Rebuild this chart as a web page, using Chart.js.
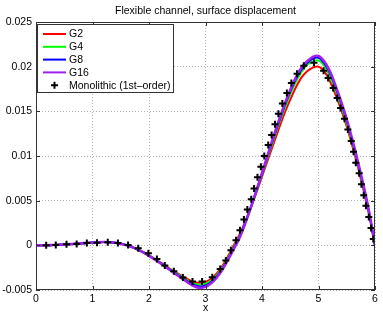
<!DOCTYPE html>
<html lang="en">
<head>
  <meta charset="UTF-8">
  <title>Flexible channel, surface displacement</title>
  <script src="https://cdn.jsdelivr.net/npm/chart.js"></script>
  <style>
    * { margin: 0; padding: 0; box-sizing: border-box; }
    body { background: #fff; width: 383px; height: 318px; overflow: hidden; }
    canvas { display: block; }
  </style>
</head>
<body>
  <canvas id="chart" width="383" height="318"></canvas>

  <script>
    // x grid shared by the four coupled curves
    const xs = [0, 0.1, 0.2, 0.3, 0.4, 0.5, 0.6, 0.7, 0.8, 0.9,
      1.0, 1.1, 1.2, 1.3, 1.4, 1.5, 1.6, 1.7, 1.8, 1.9,
      2.0, 2.1, 2.2, 2.3, 2.4, 2.5, 2.6, 2.7, 2.8, 2.9,
      3.0, 3.1, 3.2, 3.3, 3.4, 3.5, 3.6, 3.7, 3.8, 3.9,
      4.0, 4.1, 4.2, 4.3, 4.4, 4.5, 4.6, 4.7, 4.8, 4.9,
      5.0, 5.1, 5.2, 5.3, 5.4, 5.5, 5.6, 5.7, 5.8, 5.9, 6.0];

    const g2 = [0, 0, 0.00001, 0.00003, 0.00006, 0.00009, 0.00013, 0.00017, 0.00022, 0.00027,
      0.00031, 0.00035, 0.00037, 0.00035, 0.00029, 0.00018, 0.00002, -0.0002, -0.00046, -0.00077,
      -0.00112, -0.0015, -0.0019, -0.00232, -0.00273, -0.00312, -0.00349, -0.00384, -0.0041, -0.0042,
      -0.0041, -0.00375, -0.00315, -0.0023, -0.0012, 0.0, 0.0012, 0.0026, 0.0042, 0.0059,
      0.0077, 0.0095, 0.0113, 0.0131, 0.0148, 0.0163, 0.0177, 0.0188, 0.0195, 0.0199,
      0.0200, 0.0195, 0.0184, 0.0169, 0.0152, 0.0133, 0.0111, 0.0087, 0.0061, 0.0033, 0];

    const g4 = [0, 0, 0.00001, 0.00003, 0.00006, 0.00009, 0.00013, 0.00017, 0.00022, 0.00027,
      0.00031, 0.00035, 0.00037, 0.00035, 0.00029, 0.00018, 0.00002, -0.0002, -0.00047, -0.00079,
      -0.00115, -0.00153, -0.00194, -0.00236, -0.00279, -0.0032, -0.0036, -0.004, -0.0043, -0.0044,
      -0.0043, -0.00395, -0.00333, -0.0025, -0.0014, -0.0002, 0.001, 0.0025, 0.0042, 0.0060,
      0.0079, 0.0098, 0.0117, 0.0136, 0.0153, 0.0169, 0.0183, 0.0194, 0.0202, 0.0206,
      0.0207, 0.0201, 0.0189, 0.0174, 0.0156, 0.0136, 0.0114, 0.0089, 0.0063, 0.0034, 0];

    const g8 = [0, 0, 0.00001, 0.00003, 0.00006, 0.00009, 0.00013, 0.00017, 0.00022, 0.00027,
      0.00031, 0.00035, 0.00037, 0.00035, 0.00029, 0.00018, 0.00002, -0.0002, -0.00048, -0.0008,
      -0.00116, -0.00155, -0.00197, -0.0024, -0.00284, -0.00327, -0.00368, -0.0041, -0.00443, -0.0046,
      -0.0045, -0.00412, -0.00348, -0.0026, -0.0015, -0.0003, 0.0009, 0.0025, 0.0042, 0.0061,
      0.0080, 0.0100, 0.0119, 0.0138, 0.0156, 0.0172, 0.0186, 0.0197, 0.0204, 0.0209,
      0.0210, 0.0204, 0.0193, 0.0177, 0.0159, 0.0139, 0.0116, 0.0091, 0.0065, 0.0035, 0];

    const g16 = [0, 0, 0.00001, 0.00003, 0.00006, 0.00009, 0.00013, 0.00017, 0.00022, 0.00027,
      0.00031, 0.00035, 0.00037, 0.00035, 0.00029, 0.00018, 0.00002, -0.0002, -0.00048, -0.0008,
      -0.00117, -0.00157, -0.002, -0.00245, -0.0029, -0.00335, -0.00378, -0.00422, -0.00458, -0.00476,
      -0.00465, -0.00425, -0.0036, -0.0027, -0.0016, -0.0004, 0.0008, 0.0024, 0.0042, 0.0061,
      0.0081, 0.0101, 0.0121, 0.0140, 0.0158, 0.0174, 0.0188, 0.0199, 0.0206, 0.0211,
      0.0212, 0.0206, 0.0195, 0.0179, 0.0161, 0.0141, 0.0118, 0.0093, 0.0066, 0.0036, 0];

    // monolithic (1st-order) reference markers
    const monoX = [0.18, 0.35, 0.54, 0.72, 0.90, 1.08, 1.27, 1.45, 1.63, 1.81,
      1.99, 2.14, 2.28, 2.44, 2.60, 2.77, 2.94, 3.12, 3.26, 3.36,
      3.45, 3.54, 3.61, 3.68, 3.74, 3.81, 3.86, 3.92, 3.98, 4.04,
      4.11, 4.17, 4.23, 4.29, 4.36, 4.44, 4.52, 4.62, 4.74, 4.92,
      5.09, 5.17, 5.26, 5.33, 5.39, 5.46, 5.52, 5.58, 5.62, 5.66,
      5.72, 5.76, 5.80, 5.84, 5.89, 5.93, 5.97];
    const monoY = [0.0, 0.00004, 0.00011, 0.00015, 0.00026, 0.0003, 0.00034, 0.00026, 0.00004, -0.00034,
      -0.0009, -0.00154, -0.00225, -0.00289, -0.0036, -0.00404, -0.00404, -0.00356, -0.00266, -0.00169,
      -0.00056, 0.00056, 0.00169, 0.00289, 0.00401, 0.00517, 0.00637, 0.00761, 0.0088, 0.01,
      0.01124, 0.01236, 0.01356, 0.01472, 0.01587, 0.01705, 0.01817, 0.01921, 0.02011, 0.02045,
      0.01955, 0.01873, 0.0176, 0.01648, 0.01536, 0.01416, 0.01296, 0.01169, 0.01048, 0.00925,
      0.00806, 0.00685, 0.00562, 0.00442, 0.00318, 0.00194, 0.00071];

    const seriesLabels = ['G2', 'G4', 'G8', 'G16', 'Monolithic (1st\u2013order)'];
    const seriesColors = ['#ff0000', '#00ff00', '#0000ff', '#a020f0', '#000000'];
    const xTickLabels = ['0', '1', '2', '3', '4', '5', '6'];
    const yTickLabels = ['-0.005', '0', '0.005', '0.01', '0.015', '0.02', '0.025'];
    const chartTitle = 'Flexible channel, surface displacement';
    const xTitle = 'x';

    const FONT = '"Liberation Sans", Arial, Helvetica, sans-serif';

    const toPoints = (xv, yv) => xv.map((x, i) => ({ x, y: yv[i] }));

    function lineSet(i, ys, width) {
      return {
        label: seriesLabels[i],
        data: toPoints(xs, ys),
        showLine: true,
        borderColor: seriesColors[i],
        backgroundColor: seriesColors[i],
        borderWidth: width,
        pointRadius: 0,
        tension: 0.3,
        order: 5 - i
      };
    }

    // axes box, inward ticks, title, x label and legend
    const matlabFrame = {
      id: 'matlabFrame',
      afterDraw(chart) {
        const { ctx, chartArea: a, scales: { x, y } } = chart;
        ctx.save();
        ctx.strokeStyle = '#333';
        ctx.lineWidth = 1;
        ctx.strokeRect(a.left + 0.5, a.top + 0.5, a.right - a.left - 1, a.bottom - a.top - 1);

        ctx.beginPath();
        x.ticks.forEach(t => {
          const px = Math.round(x.getPixelForValue(t.value)) + 0.5;
          ctx.moveTo(px, a.bottom); ctx.lineTo(px, a.bottom - 4);
          ctx.moveTo(px, a.top); ctx.lineTo(px, a.top + 4);
        });
        y.ticks.forEach(t => {
          const py = Math.round(y.getPixelForValue(t.value)) + 0.5;
          ctx.moveTo(a.left, py); ctx.lineTo(a.left + 4, py);
          ctx.moveTo(a.right, py); ctx.lineTo(a.right - 4, py);
        });
        ctx.stroke();

        ctx.fillStyle = '#000';
        ctx.font = '10.5px ' + FONT;
        ctx.textAlign = 'center';
        ctx.textBaseline = 'middle';
        const cx = (a.left + a.right) / 2;
        ctx.fillText(chartTitle, cx, 11);
        ctx.fillText(xTitle, cx, 308);

        // legend
        const lx = 37, ly = 24, lw = 136, lh = 68;
        ctx.fillStyle = '#fff';
        ctx.fillRect(lx, ly, lw, lh);
        ctx.strokeStyle = '#333';
        ctx.strokeRect(lx + 0.5, ly + 0.5, lw, lh);
        ctx.textAlign = 'left';
        chart.data.datasets.forEach((ds, i) => {
          const ry = 34 + i * 12.8;
          if (ds.showLine) {
            ctx.strokeStyle = ds.borderColor;
            ctx.lineWidth = 2;
            ctx.beginPath();
            ctx.moveTo(43, ry); ctx.lineTo(66, ry);
            ctx.stroke();
          } else {
            ctx.strokeStyle = '#000';
            ctx.lineWidth = 2;
            ctx.beginPath();
            ctx.moveTo(51, ry); ctx.lineTo(58, ry);
            ctx.moveTo(54.5, ry - 3.5); ctx.lineTo(54.5, ry + 3.5);
            ctx.stroke();
          }
          ctx.fillStyle = '#000';
          ctx.fillText(ds.label, 69, ry + 0.5);
        });
        ctx.restore();
      }
    };

    new Chart(document.getElementById('chart'), {
      type: 'scatter',
      data: {
        datasets: [
          lineSet(0, g2, 2),
          lineSet(1, g4, 2),
          lineSet(2, g8, 2),
          lineSet(3, g16, 2.6),
          {
            label: seriesLabels[4],
            data: toPoints(monoX, monoY),
            showLine: false,
            pointStyle: 'cross',
            pointRadius: 3.5,
            borderWidth: 2,
            borderColor: seriesColors[4],
            backgroundColor: seriesColors[4],
            order: 0
          }
        ]
      },
      options: {
        responsive: false,
        animation: false,
        events: [],
        layout: { padding: { top: 22, right: 8, left: 0, bottom: 0 } },
        plugins: { legend: { display: false }, tooltip: { enabled: false }, title: { display: false } },
        scales: {
          x: {
            type: 'linear',
            min: 0, max: 6,
            afterFit: s => { s.height = 28; },
            ticks: {
              stepSize: 1,
              padding: 3,
              color: '#000',
              font: { family: FONT, size: 10.5 },
              callback: (v, i) => xTickLabels[i]
            },
            grid: { color: '#b5b5b5', drawTicks: false },
            border: { display: false, dash: [1, 2] }
          },
          y: {
            min: -0.005, max: 0.025,
            afterFit: s => { s.width = 36; },
            ticks: {
              stepSize: 0.005,
              padding: 4,
              color: '#000',
              font: { family: FONT, size: 10.5 },
              callback: (v, i) => yTickLabels[i]
            },
            grid: { color: '#b5b5b5', drawTicks: false },
            border: { display: false, dash: [1, 2] }
          }
        }
      },
      plugins: [matlabFrame]
    });
  </script>
</body>
</html>
